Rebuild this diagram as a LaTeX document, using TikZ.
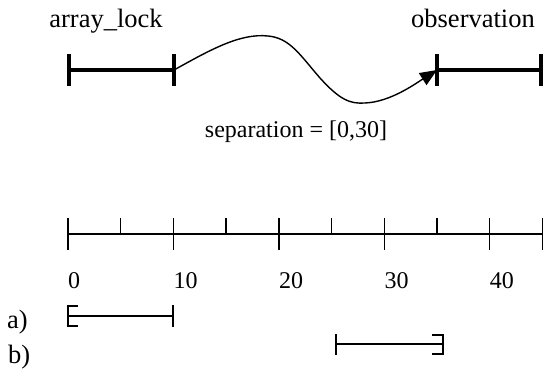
\documentclass[tikz,border=0pt]{standalone}
\usepackage{fontspec}
\setmainfont{Liberation Serif}
\usetikzlibrary{arrows.meta,calc}
\begin{document}
\begin{tikzpicture}[x=1pt,y=-1pt,
  lbl/.style={font=\fontsize{24}{28}\selectfont, inner sep=0pt},
  biglbl/.style={font=\fontsize{26.5}{30}\selectfont, inner sep=0pt},
  barline/.style={line width=4pt},
  axisline/.style={line width=1.4pt},
  curveline/.style={line width=1.4pt},
  segline/.style={line width=1.6pt}]
\useasboundingbox (0,0) rectangle (544,369);
% top labels
\node[biglbl, anchor=base] (al) at (106,28) {array\_lock};
\node[biglbl, anchor=base] (ob) at (473,28) {observation};
% bars
\coordinate (alS) at (69,70); \coordinate (alE) at (174,70);
\coordinate (obS) at (437,70); \coordinate (obE) at (541,70);
\draw[barline] (alS) -- (alE);
\draw[barline] (obS) -- (obE);
\foreach \c in {alS,alE,obS,obE}{
  \draw[barline] ([yshift=16pt]\c) -- ([yshift=-16pt]\c);
}
% curve
\draw[curveline, -{Triangle[length=17pt,width=14pt]}] (alE)
  .. controls (210,50) and (240,33) .. (268,36)
  .. controls (290,38) and (300,55) .. (320,78)
  .. controls (340,100) and (350,104) .. (365,103)
  .. controls (390,102) and (415,84) .. (obS);
\node[lbl, anchor=base] (sep) at (296,138) {separation = [0,30]};
% axis
\coordinate (ax0) at (68,234); \coordinate (ax45) at (542.5,234);
\draw[axisline] (ax0) -- (ax45);
\foreach \i in {0,2,4,6,8,9}{
  \draw[axisline] ($(ax0)+(\i*52.72,-16)$) -- ($(ax0)+(\i*52.72,16)$);
}
\foreach \i in {1,3,5,7}{
  \draw[axisline] ($(ax0)+(\i*52.72,-16)$) -- ($(ax0)+(\i*52.72,0)$);
}
\foreach \v [count=\k from 0] in {0,10,20,30,40}{
  \node[lbl, anchor=base west] (n\v) at (68+\k*105.44,288) {\v};
}
% a) and b)
\node[biglbl, anchor=base west] (la) at (7,328) {a)};
\node[biglbl, anchor=base west] (lb) at (8,363) {b)};
\coordinate (aS) at (68,316); \coordinate (aE) at (173,316);
\draw[segline] (aS) -- (aE);
\draw[segline] (78,306) -- (68,306) -- (68,326) -- (78,326);
\draw[segline] (173,305) -- (173,327);
\coordinate (bS) at (336,344); \coordinate (bE) at (443,344);
\draw[segline] (bS) -- (bE);
\draw[segline] (336,334) -- (336,355);
\draw[segline] (432,335) -- (443,335) -- (443,354) -- (432,354);
\end{tikzpicture}
\end{document}
